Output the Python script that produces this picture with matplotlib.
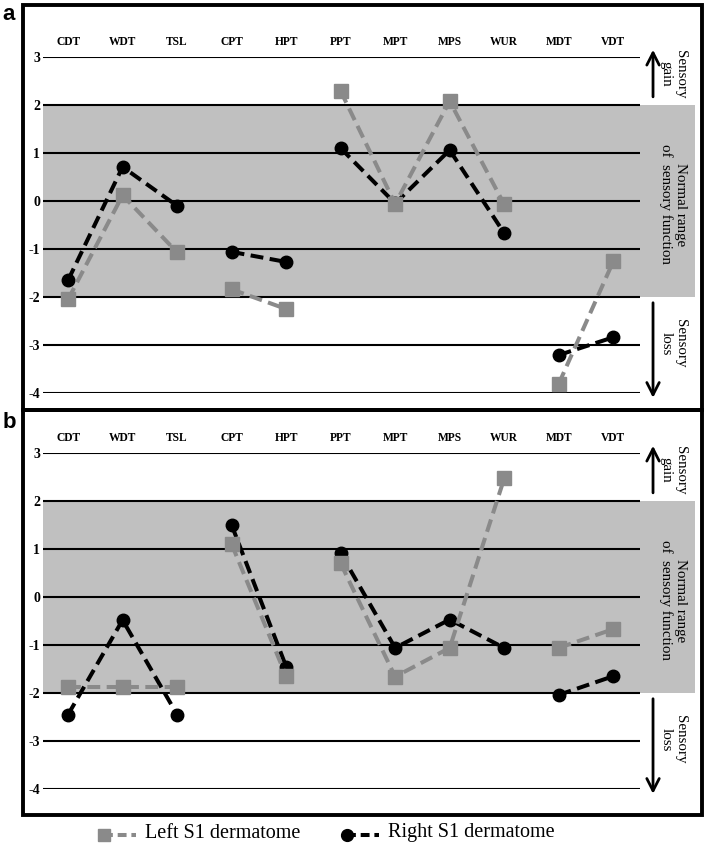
import matplotlib
matplotlib.use('Agg')  # no display
import matplotlib.pyplot as plt
from matplotlib.patches import Rectangle
from matplotlib.lines import Line2D

plt.rcParams['font.family'] = ['Liberation Serif', 'DejaVu Serif']

# QST z-scores per test
categories = ['CDT', 'WDT', 'TSL', 'CPT', 'HPT', 'PPT', 'MPT', 'MPS', 'WUR', 'MDT', 'VDT']
# tests are joined only inside these groups
groups = [(0, 3), (3, 5), (5, 9), (9, 11)]

a_left = [-2.05, 0.12, -1.07, -1.84, -2.25, 2.29, -0.06, 2.08, -0.07, -3.81, -1.26]
a_right = [-1.65, 0.71, -0.10, -1.06, -1.27, 1.10, -0.05, 1.06, -0.67, -3.21, -2.84]
b_left = [-1.87, -1.87, -1.87, 1.10, -1.65, 0.70, -1.66, -1.06, 2.47, -1.06, -0.67]
b_right = [-2.45, -0.48, -2.45, 1.50, -1.45, 0.91, -1.06, -0.47, -1.06, -2.04, -1.65]

yticks = [3, 2, 1, 0, -1, -2, -3, -4]

GRAY = '#8a8a8a'
BAND = '#c0c0c0'
W, H = 706, 847

fig = plt.figure(figsize=(W / 100, H / 100), dpi=100)

# overlay in pixel coords for frames, letters and legend
over = fig.add_axes([0, 0, 1, 1])
over.set_xlim(0, W)
over.set_ylim(H, 0)
over.axis('off')


def px_axes(x0, y0, x1, y1):
    return fig.add_axes([x0 / W, 1 - y1 / H, (x1 - x0) / W, (y1 - y0) / H])


def draw_panel(ax, left, right):
    x = list(range(len(categories)))
    ax.set_xlim(-0.46, 11.5)
    ax.set_ylim(-4, 3)
    ax.axhspan(-2, 2, color=BAND, zorder=0, lw=0)
    ax.hlines(yticks, -0.46, 10.5, color='black', lw=1.5, zorder=1)
    for s, e in groups:
        ax.plot(x[s:e], right[s:e], color='black', lw=2.9, dashes=(3.2, 1.6),
                marker='o', ms=9, zorder=3, clip_on=False)
        ax.plot(x[s:e], left[s:e], color=GRAY, lw=2.9, dashes=(3.2, 1.6),
                marker='s', ms=9.5, zorder=4, clip_on=False)
    for s in ax.spines.values():
        s.set_visible(False)
    ax.set_yticks(yticks)
    ax.set_yticklabels([str(v) for v in yticks], fontweight='bold', fontsize=10)
    ax.tick_params(axis='y', length=0, pad=2)
    ax.xaxis.tick_top()
    ax.set_xticks(x)
    ax.set_xticklabels(categories, fontweight='bold', fontsize=8.3)
    ax.tick_params(axis='x', length=0, pad=6.5)
    ax.set_facecolor('none')

    # right-hand annotations
    arrow = dict(arrowstyle='->, head_length=0.55, head_width=0.28',
                 lw=2, color='black', mutation_scale=16, shrinkA=0, shrinkB=0)
    ax.annotate('', xy=(10.73, 3.15), xytext=(10.73, 2.17), arrowprops=arrow,
                annotation_clip=False)
    ax.annotate('', xy=(10.73, -4.1), xytext=(10.73, -2.12), arrowprops=arrow,
                annotation_clip=False)
    txt = dict(rotation=270, ha='center', va='center', fontsize=10.8,
               multialignment='center', linespacing=1.1)
    ax.text(11.1, 2.64, 'Sensory\ngain', **txt)
    ax.text(11.1, -0.07, 'Normal range\nof  sensory function', **txt)
    ax.text(11.1, -2.97, 'Sensory\nloss', **txt)


ax_a = px_axes(43, 57, 695, 393)
draw_panel(ax_a, a_left, a_right)
ax_b = px_axes(43, 453, 695, 789)
draw_panel(ax_b, b_left, b_right)

# panel frames
for y0, y1 in [(5, 410), (410, 815)]:
    over.add_patch(Rectangle((23, y0), 679, y1 - y0, fill=False,
                             lw=2.8, edgecolor='black'))
over.text(9, 14, 'a', family='Liberation Sans', fontweight='bold',
          fontsize=16, ha='center', va='center')
over.text(9, 423, 'b', family='Liberation Sans', fontweight='bold',
          fontsize=16, ha='center', va='center')

# legend, marker at the left end of the dashed line
over.add_line(Line2D([104, 136], [835, 835], color=GRAY, lw=2.9, dashes=(2.2, 1.2),
                     marker='s', ms=9, markevery=[0]))
over.text(145, 833, 'Left S1 dermatome', fontsize=14.5, va='center', ha='left')
over.add_line(Line2D([347, 379], [835, 835], color='black', lw=2.9, dashes=(2.2, 1.2),
                     marker='o', ms=8.5, markevery=[0]))
over.text(388, 833, 'Right S1 dermatome', fontsize=14.5, va='center', ha='left')

plt.savefig('out.png', dpi=100)
plt.close()
